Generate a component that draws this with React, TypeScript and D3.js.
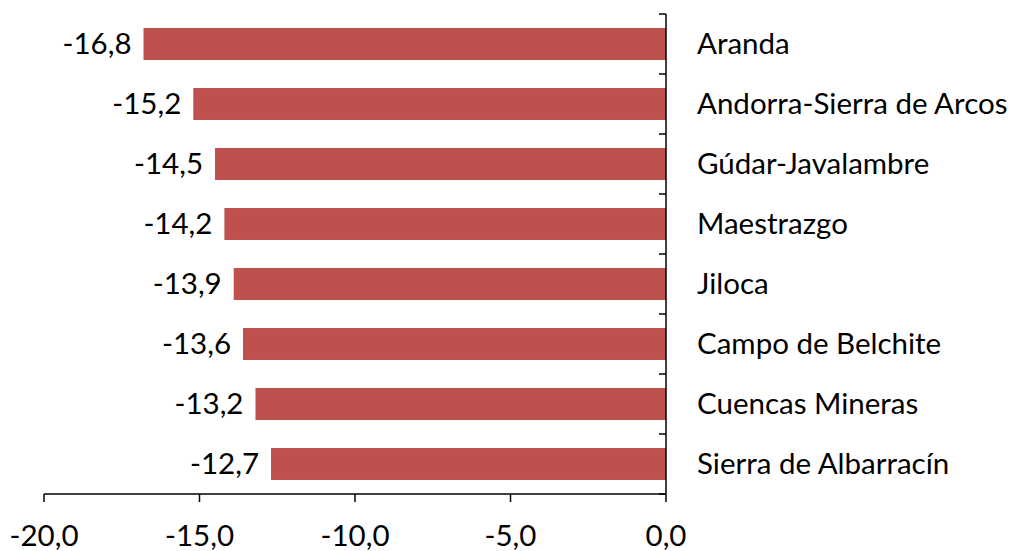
import * as d3 from 'd3';
import React from 'react';

const categories = [
    'Aranda',
    'Andorra-Sierra de Arcos',
    'Gúdar-Javalambre',
    'Maestrazgo',
    'Jiloca',
    'Campo de Belchite',
    'Cuencas Mineras',
    'Sierra de Albarracín',
];
const values = [-16.8, -15.2, -14.5, -14.2, -13.9, -13.6, -13.2, -12.7];
const xTicks = [-20, -15, -10, -5, 0];

const width = 1011;
const height = 551;
const font = "Lato, 'Open Sans', sans-serif";
const fontSize = 29.5;
const fmt = (v: number) => v.toFixed(1).replace('.', ',');

export default function App() {
    const x = d3.scaleLinear().domain([-20, 0]).range([44, 666]);
    const y = d3.scaleBand<string>()
        .domain(categories)
        .range([14, 494])
        .paddingInner(0.467)
        .paddingOuter(0.2335);
    const step = y.step();
    const axisY = 494;

    return (
        <svg width={width} height={height} style={{ position: 'absolute', left: 0, top: 0 }}>
            <rect width={width} height={height} fill="#fff" />
            {/* bars */}
            {categories.map((c, i) => (
                <rect
                    key={c}
                    x={x(values[i])}
                    y={y(c)}
                    width={x(0) - x(values[i])}
                    height={y.bandwidth()}
                    fill="#C0504D"
                />
            ))}
            {/* value labels */}
            {categories.map((c, i) => (
                <text
                    key={c}
                    x={x(values[i]) - 12}
                    y={(y(c) ?? 0) + y.bandwidth() / 2}
                    dy="0.35em"
                    textAnchor="end"
                    fontFamily={font}
                    fontSize={fontSize}
                    fill="#000"
                >
                    {fmt(values[i])}
                </text>
            ))}
            {/* category labels */}
            {categories.map((c) => (
                <text
                    key={c}
                    x={697}
                    y={(y(c) ?? 0) + y.bandwidth() / 2}
                    dy="0.35em"
                    fontFamily={font}
                    fontSize={fontSize}
                    fill="#000"
                >
                    {c}
                </text>
            ))}
            {/* vertical axis at zero */}
            <line x1={x(0)} x2={x(0)} y1={14} y2={axisY} stroke="#000" strokeWidth={1.5} />
            {d3.range(categories.length + 1).map((i) => (
                <line
                    key={i}
                    x1={x(0) - 7}
                    x2={x(0)}
                    y1={14 + i * step}
                    y2={14 + i * step}
                    stroke="#000"
                    strokeWidth={1.5}
                />
            ))}
            {/* bottom axis */}
            <line x1={x(-20)} x2={x(0)} y1={axisY} y2={axisY} stroke="#000" strokeWidth={1.5} />
            {xTicks.map((t) => (
                <g key={t}>
                    <line x1={x(t)} x2={x(t)} y1={axisY} y2={axisY + 8} stroke="#000" strokeWidth={1.5} />
                    <text
                        x={x(t)}
                        y={546}
                        textAnchor="middle"
                        fontFamily={font}
                        fontSize={fontSize}
                        fill="#000"
                    >
                        {fmt(t)}
                    </text>
                </g>
            ))}
        </svg>
    );
}
